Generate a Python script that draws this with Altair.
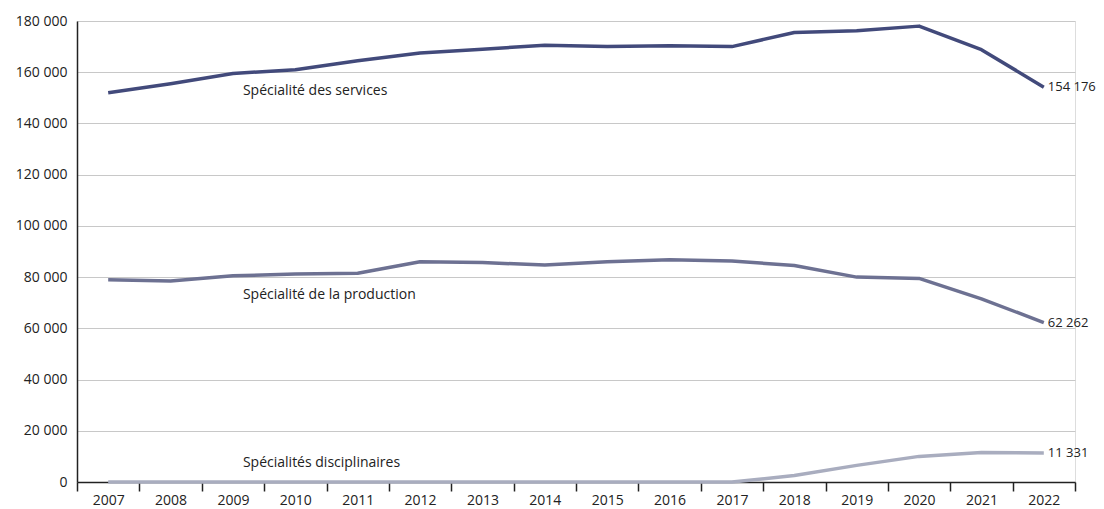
import altair as alt
import pandas as pd

years = [str(y) for y in range(2007, 2023)]
services = [152000, 155500, 159500, 161000, 164500, 167500, 169000, 170500,
            170000, 170300, 170000, 175500, 176200, 178000, 168800, 154176]
production = [79000, 78500, 80500, 81200, 81500, 86000, 85700, 84700,
              86000, 86800, 86300, 84500, 80000, 79500, 71500, 62262]
disciplinaires = [0, 0, 0, 0, 0, 0, 0, 0, 0, 0, 0, 2500, 6500, 10000, 11500, 11331]

series_names = ["Spécialité des services", "Spécialité de la production", "Spécialités disciplinaires"]
series_colors = ["#424a7b", "#6d7192", "#a9adbf"]
name_years = ["2009", "2009", "2009"]
name_values = [152500, 73000, 7400]
end_texts = ["154 176", "62 262", "11 331"]

rows = []
for name, vals in zip(series_names, [services, production, disciplinaires]):
    for y, v in zip(years, vals):
        rows.append({"annee": y, "valeur": v, "serie": name})
df = pd.DataFrame(rows)

names_df = pd.DataFrame({"annee": name_years, "valeur": name_values, "serie": series_names})
ends_df = pd.DataFrame({"annee": ["2022"] * 3,
                        "valeur": [services[-1], production[-1], disciplinaires[-1]],
                        "txt": end_texts})

FONT = "Open Sans"
FS = 14

x_enc = alt.X("annee:O", sort=years, bandPosition=0.5,
              scale=alt.Scale(type="band", paddingInner=0, paddingOuter=0),
              axis=alt.Axis(title=None, tickBand="extent", labelAngle=0, grid=False,
                            domainColor="#222", tickColor="#222", tickSize=9, tickWidth=1.5,
                            domainWidth=1.5, labelFontSize=FS, labelColor="#222",
                            labelPadding=2, labelFont=FONT))
y_scale = alt.Scale(domain=[0, 180000], nice=False)
y_enc = alt.Y("valeur:Q", scale=y_scale,
              axis=alt.Axis(title=None, values=list(range(0, 180001, 20000)), ticks=False,
                            domain=True, domainColor="#222", domainWidth=1.5,
                            gridColor="#c8c8c8", gridWidth=1,
                            labelFontSize=FS, labelColor="#222", labelPadding=10,
                            labelFont=FONT,
                            labelExpr="replace(format(datum.value, ','), regexp(',', 'g'), ' ')"))

lines = alt.Chart(df).mark_line(strokeWidth=3.5, strokeCap="butt", strokeJoin="round").encode(
    x=x_enc, y=y_enc,
    color=alt.Color("serie:N", scale=alt.Scale(domain=series_names, range=series_colors), legend=None),
)

names = alt.Chart(names_df).mark_text(align="left", baseline="middle", dx=10,
                                      fontSize=FS, font=FONT, color="#222").encode(
    x=alt.X("annee:O", sort=years, bandPosition=0.5),
    y=alt.Y("valeur:Q", scale=y_scale),
    text="serie:N",
)

ends = alt.Chart(ends_df).mark_text(align="left", baseline="middle", dx=4,
                                    fontSize=13, font=FONT, color="#222").encode(
    x=alt.X("annee:O", sort=years, bandPosition=0.5),
    y=alt.Y("valeur:Q", scale=y_scale),
    text="txt:N",
)

chart = alt.layer(lines, names, ends).properties(
    width=998, height=461,
    autosize=alt.AutoSizeParams(type="none"),
    padding={"left": 69, "top": 13, "right": 21, "bottom": 26},
).configure_view(stroke=None).configure(background="white")

chart.save("out.html", embed_options={"renderer": "svg", "actions": False})
